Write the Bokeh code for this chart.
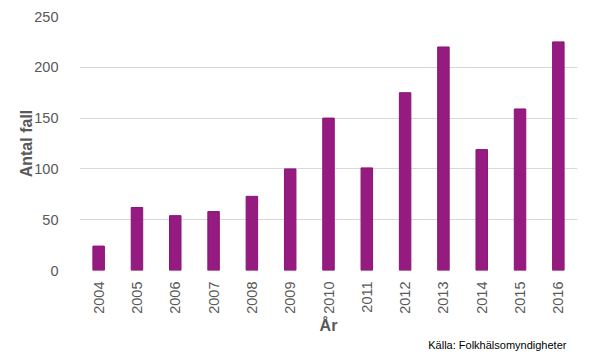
from bokeh.plotting import figure
from bokeh.models import FactorRange, Title, ColumnDataSource
from bokeh.embed import file_html
from bokeh.resources import INLINE
import math

years = ["2004", "2005", "2006", "2007", "2008", "2009", "2010",
         "2011", "2012", "2013", "2014", "2015", "2016"]
cases = [24, 62, 54, 58, 73, 100, 150, 101, 175, 220, 119, 159, 225]
y_ticks = [0, 50, 100, 150, 200, 250]
y_label = "Antal fall"
x_label = "År"
source_text = "Källa:  Folkhälsomyndigheter"

FONT = "Liberation Sans"
GREY = "#595959"

src = ColumnDataSource(dict(x=years, y=cases))

p = figure(width=590, height=354, output_backend="svg", toolbar_location=None,
           x_range=FactorRange(*years, range_padding=0), y_range=(0, 250),
           min_border_left=79, min_border_right=13, min_border_top=16, min_border_bottom=84)
p.outline_line_color = None
p.background_fill_color = "white"

p.vbar(x="x", top="y", width=0.30, source=src, fill_color="#951B81",
       line_color="#8A1576", line_width=1)

p.yaxis.ticker = y_ticks
p.xgrid.grid_line_color = None
p.ygrid.grid_line_color = "#d9d9d9"
p.ygrid.grid_line_width = 1

for ax in (p.xaxis[0], p.yaxis[0]):
    ax.axis_line_color = None
    ax.major_tick_line_color = None
    ax.minor_tick_line_color = None
    ax.major_label_text_font = FONT
    ax.major_label_text_font_size = "14.5px"
    ax.major_label_text_color = GREY
    ax.axis_label_text_font = FONT
    ax.axis_label_text_font_style = "bold"
    ax.axis_label_text_font_size = "16px"
    ax.axis_label_text_color = GREY

p.yaxis.axis_label = y_label
p.yaxis.major_label_standoff = 15
p.yaxis.axis_label_standoff = -4
p.xaxis.axis_label = x_label
p.xaxis.major_label_orientation = math.pi / 2
p.xaxis.major_label_standoff = 5
p.xaxis.axis_label_standoff = 0

p.add_layout(Title(text=source_text, align="right", offset=8, standoff=0,
                   text_font=FONT, text_font_size="11px", text_font_style="normal",
                   text_color="#000000"), "below")
p.add_layout(Title(text=" ", text_font_size="2px", standoff=0), "below")

open("out.html", "w").write(file_html(p, INLINE))
